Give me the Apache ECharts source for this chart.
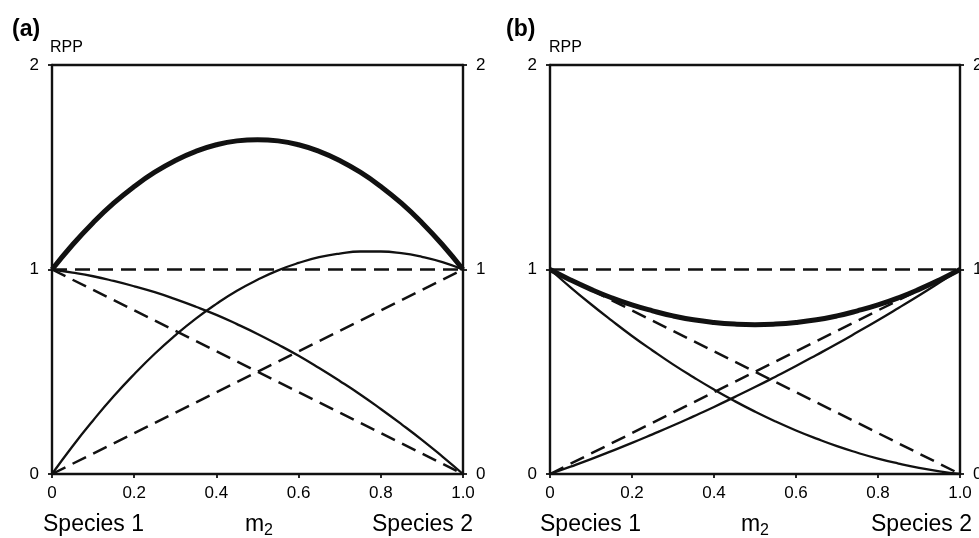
<!DOCTYPE html>
<html>
<head>
<meta charset="utf-8">
<script src="https://cdn.jsdelivr.net/npm/echarts@6/dist/echarts.min.js"></script>
<style>
  html, body { margin: 0; padding: 0; background: #fff; }
  #main { width: 979px; height: 538px; }
</style>
</head>
<body>
<div id="main"></div>
<script>
// m2 sample points, shared by every curve
var mValues = [0, 0.05, 0.1, 0.15, 0.2, 0.25, 0.3, 0.35, 0.4, 0.45, 0.5,
    0.55, 0.6, 0.65, 0.7, 0.75, 0.8, 0.85, 0.9, 0.95, 1];

// panel (a)
var aTotal = [1, 1.121, 1.229, 1.324, 1.406, 1.476, 1.533, 1.578, 1.61, 1.629, 1.635,
    1.629, 1.61, 1.578, 1.533, 1.476, 1.406, 1.324, 1.229, 1.121, 1];
var aSpecies1 = [1, 0.985, 0.967, 0.944, 0.918, 0.889, 0.855, 0.818, 0.778, 0.733, 0.685,
    0.633, 0.578, 0.518, 0.455, 0.389, 0.318, 0.244, 0.167, 0.085, 0];
var aSpecies2 = [0, 0.136, 0.262, 0.38, 0.488, 0.588, 0.678, 0.76, 0.832, 0.896, 0.95,
    0.996, 1.032, 1.06, 1.078, 1.088, 1.088, 1.08, 1.062, 1.036, 1];

// panel (b)
var bTotal = [1, 0.949, 0.903, 0.862, 0.827, 0.798, 0.773, 0.754, 0.741, 0.733, 0.73,
    0.733, 0.741, 0.754, 0.773, 0.798, 0.827, 0.862, 0.903, 0.949, 1];
var bSpecies1 = [1, 0.913, 0.83, 0.751, 0.675, 0.604, 0.536, 0.473, 0.413, 0.357, 0.305,
    0.257, 0.213, 0.173, 0.136, 0.104, 0.075, 0.051, 0.03, 0.013, 0];
var bSpecies2 = [0, 0.036, 0.073, 0.112, 0.152, 0.194, 0.237, 0.282, 0.328, 0.376, 0.425,
    0.476, 0.528, 0.582, 0.637, 0.694, 0.752, 0.812, 0.873, 0.936, 1];

// dashed reference lines (end points)
var refX = [0, 1];
var refFlat = [1, 1];
var refFalling = [1, 0];
var refRising = [0, 1];

var xTicks = [0, 0.2, 0.4, 0.6, 0.8, 1.0];
var yTicks = [0, 1, 2];

var ink = "#111";
var font = "Liberation Sans, Arial, Helvetica, sans-serif";

function pairs(xs, ys) {
    return xs.map(function(x, i) { return [x, ys[i]]; });
}

function bottomAxis(gi) {
    return {
        type: "value", gridIndex: gi, position: "bottom",
        min: xTicks[0], max: xTicks[xTicks.length - 1], interval: 0.2,
        axisLine: { show: true, onZero: false, lineStyle: { color: ink, width: 2.4 } },
        axisTick: { show: true, length: 4, lineStyle: { color: ink, width: 1.8 } },
        axisLabel: {
            color: "#000", fontSize: 17, fontFamily: font, margin: 11,
            formatter: function(v) { return v === 0 ? "0" : v.toFixed(1); }
        },
        splitLine: { show: false }
    };
}
function topAxis(gi) {
    return {
        type: "value", gridIndex: gi, position: "top", min: 0, max: 1,
        axisLine: { show: true, onZero: false, lineStyle: { color: ink, width: 2.4 } },
        axisTick: { show: false }, axisLabel: { show: false }, splitLine: { show: false }
    };
}
function sideAxis(gi, pos) {
    return {
        type: "value", gridIndex: gi, position: pos,
        min: yTicks[0], max: yTicks[yTicks.length - 1], interval: 1,
        axisLine: { show: true, onZero: false, lineStyle: { color: ink, width: 2.4 } },
        axisTick: { show: true, length: 4, lineStyle: { color: ink, width: 1.8 } },
        axisLabel: { color: "#000", fontSize: 17, fontFamily: font, margin: 13 },
        splitLine: { show: false }
    };
}

function line(xi, yi, data, width, dashed) {
    return {
        type: "line", xAxisIndex: xi, yAxisIndex: yi, data: data,
        showSymbol: false, smooth: !dashed, silent: true,
        lineStyle: { color: ink, width: width, type: dashed ? [15, 8] : "solid" }
    };
}

function txt(x, y, s, size, opts) {
    opts = opts || {};
    return {
        type: "text", x: x, y: y, silent: true,
        style: {
            text: s, fill: "#000", fontSize: size, fontFamily: font,
            fontWeight: opts.bold ? "bold" : "normal",
            align: opts.align || "left", verticalAlign: "middle"
        }
    };
}

var chart = echarts.init(document.getElementById("main"), null, { renderer: "canvas" });

var option = {
    animation: false,
    backgroundColor: "#fff",
    grid: [
        { left: 52, top: 65, width: 411, height: 409, outerBoundsMode: "none" },
        { left: 550, top: 65, width: 410, height: 409, outerBoundsMode: "none" }
    ],
    xAxis: [bottomAxis(0), topAxis(0), bottomAxis(1), topAxis(1)],
    yAxis: [sideAxis(0, "left"), sideAxis(0, "right"), sideAxis(1, "left"), sideAxis(1, "right")],
    series: [
        // panel (a)
        line(0, 0, pairs(refX, refFlat), 2.5, true),
        line(0, 0, pairs(refX, refFalling), 2.5, true),
        line(0, 0, pairs(refX, refRising), 2.5, true),
        line(0, 0, pairs(mValues, aSpecies1), 2.3, false),
        line(0, 0, pairs(mValues, aSpecies2), 2.3, false),
        line(0, 0, pairs(mValues, aTotal), 5, false),
        // panel (b)
        line(2, 2, pairs(refX, refFlat), 2.5, true),
        line(2, 2, pairs(refX, refFalling), 2.5, true),
        line(2, 2, pairs(refX, refRising), 2.5, true),
        line(2, 2, pairs(mValues, bSpecies1), 2.3, false),
        line(2, 2, pairs(mValues, bSpecies2), 2.3, false),
        line(2, 2, pairs(mValues, bTotal), 5, false)
    ],
    graphic: [
        txt(12, 30, "(a)", 23, { bold: true }),
        txt(50, 48, "RPP", 16),
        txt(43, 525, "Species 1", 23),
        txt(245, 525, "m", 23),
        txt(264, 531, "2", 16),
        txt(473, 525, "Species 2", 23, { align: "right" }),

        txt(506, 30, "(b)", 23, { bold: true }),
        txt(549, 48, "RPP", 16),
        txt(540, 525, "Species 1", 23),
        txt(741, 525, "m", 23),
        txt(760, 531, "2", 16),
        txt(972, 525, "Species 2", 23, { align: "right" })
    ]
};

chart.setOption(option);
</script>
</body>
</html>
